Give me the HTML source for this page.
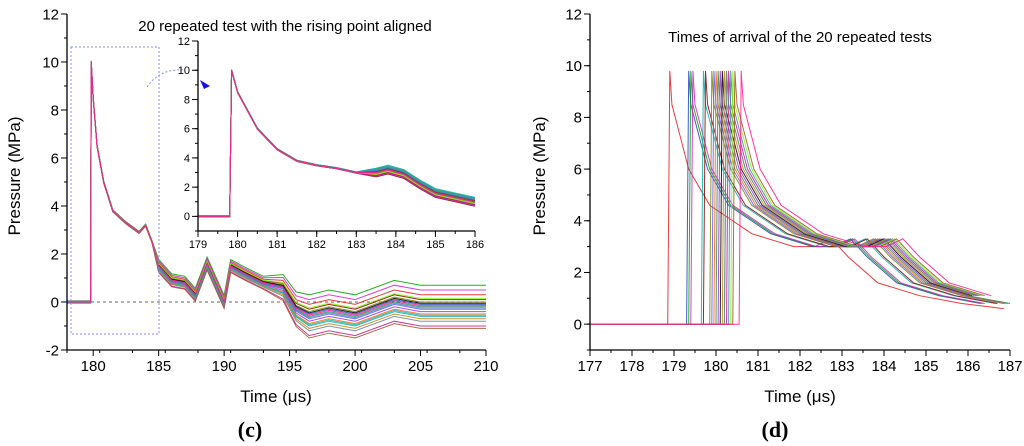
<!DOCTYPE html>
<html><head><meta charset="utf-8"><style>
html,body{margin:0;padding:0;background:#fff;}
svg{display:block;font-family:"Liberation Sans",sans-serif;}
</style></head><body>
<svg id="root" width="1024" height="446" viewBox="0 0 1024 446">
<g id="left"></g>
<g id="inset"></g>
<g id="right"></g>
</svg>
<script>
// ---------- data ----------
const colors = ["#e41a1c","#1f3fbf","#00a000","#d020d0","#00b0b0","#8b0000","#808000","#5a5aff","#ff6600","#2e8b57","#9932cc","#000000","#b8860b","#20b2aa","#c71585","#4682b4","#7cfc00","#a0522d","#708090","#ff1493"];
// Panel (c): base trace
const cTime = [178,179.8,179.85,180,180.3,180.8,181.5,182.5,183.5,184,184.5,185,186,187,187.8,188.7,190,190.5,191.5,193,194.5,195.5,196.5,198,200,203,205,207,210];
const cPress = [0,0,10,8.5,6.5,5,3.8,3.3,2.9,3.2,2.5,1.5,0.9,0.8,0.3,1.6,0,1.5,1.2,0.8,0.6,-0.3,-0.6,-0.4,-0.6,0,-0.2,-0.2,-0.2];
// per-trace late-time offsets (MPa)
const cOffsets = [0.5,0.1,0.9,0.7,-0.4,0.3,0.2,-0.1,-0.3,0.0,-0.2,0.15,-0.5,-0.35,-0.8,-0.05,0.35,-0.9,-0.6,0.05];
const cXTicks = [180,185,190,195,200,205,210];
const cYTicks = [-2,0,2,4,6,8,10,12];
// Inset
const iTime = [179,179.8,179.85,180,180.5,181,181.5,182,182.5,183,183.5,183.8,184.2,184.6,185,185.5,186];
const iPress = [0,0,10,8.5,6,4.6,3.8,3.5,3.3,3.0,3.0,3.2,2.9,2.2,1.6,1.3,1.0];
const iOffsets = [0.1,-0.1,0.05,-0.05,0.15,-0.15,0.0,0.08,-0.08,0.12,-0.12,0.03,-0.03,0.1,-0.1,0.06,-0.06,0.02,-0.02,0.0];
const iXTicks = [179,180,181,182,183,184,185,186];
const iYTicks = [0,2,4,6,8,10,12];
// Panel (d): shape relative to arrival
const dTau = [0,0.05,0.1,0.5,1,2,3,3.5,3.9,4.3,5,6,7,8,9];
const dShape = [0,9.8,8.5,6,4.6,3.5,3.0,3.0,3.3,2.6,1.6,1.1,0.8,0.6,0.5];
const dArrival = [178.85,179.3,179.35,179.4,179.65,179.7,179.85,179.9,179.95,180.0,180.05,180.1,180.15,180.2,180.25,180.3,180.35,180.4,180.2,180.55];
const dXTicks = [177,178,179,180,181,182,183,184,185,186,187];
const dYTicks = [0,2,4,6,8,10,12];
const NS="http://www.w3.org/2000/svg";
function mk(parent,tag,attrs,text){const e=document.createElementNS(NS,tag);for(const k in attrs)e.setAttribute(k,attrs[k]);if(text!==undefined)e.textContent=text;parent.appendChild(e);return e;}
function scale(d0,d1,r0,r1){return v=>r0+(v-d0)*(r1-r0)/(d1-d0);}

function axes(g,x,y,xmin,xmax,ymin,ymax,xt,yt,xminor,yminor,fs,name){
  const ax=mk(g,"line",{x1:x(xmin),y1:y(ymin),x2:x(xmax),y2:y(ymin),stroke:"#000","stroke-width":1.3});
  
  
  const ay=mk(g,"line",{x1:x(xmin),y1:y(ymin),x2:x(xmin),y2:y(ymax),stroke:"#000","stroke-width":1.3});
  
  
  for(let v=xmin;v<=xmax+1e-9;v+=xminor){mk(g,"line",{x1:x(v),x2:x(v),y1:y(ymin),y2:y(ymin)+3,stroke:"#000"});}
  for(let v=ymin;v<=ymax+1e-9;v+=yminor){mk(g,"line",{x1:x(xmin),x2:x(xmin)-3,y1:y(v),y2:y(v),stroke:"#000"});}
  xt.forEach(v=>{mk(g,"line",{x1:x(v),x2:x(v),y1:y(ymin),y2:y(ymin)+6,stroke:"#000"});
    const t=mk(g,"text",{x:x(v),y:y(ymin)+6+fs,"font-size":fs,"text-anchor":"middle"},String(v));
    
    });
  yt.forEach(v=>{mk(g,"line",{x1:x(xmin),x2:x(xmin)-6,y1:y(v),y2:y(v),stroke:"#000"});
    const t=mk(g,"text",{x:x(xmin)-8,y:y(v)+fs*0.35,"font-size":fs,"text-anchor":"end"},String(v));
    
    });
}
function line(g,pts,col,name){
  const p=mk(g,"polyline",{points:pts.map(p=>p[0].toFixed(1)+","+p[1].toFixed(1)).join(" "),fill:"none",stroke:col,"stroke-width":1,"stroke-opacity":0.85});
  
  
}

// ---------- panel c ----------
{
const g=document.getElementById('left');
const x=scale(178,210,67,486), y=scale(-2,12,350,14);
mk(g,"line",{x1:67,x2:486,y1:y(0),y2:y(0),stroke:"#666","stroke-dasharray":"3,3"});
cOffsets.forEach((o,i)=>{
  const pts=cTime.map((t,k)=>{const w=t<185?0.05:(t<193?0.3:Math.min(1,0.3+(t-193)/5));return [x(t),y(cPress[k]+o*w)];});
  line(g,pts,colors[i],'trace-c-'+(i+1));
});
axes(g,x,y,178,210,-2,12,cXTicks,cYTicks,2.5,1,15,'chart-c');
const box=mk(g,"rect",{x:71,y:47,width:88,height:287,fill:"none",stroke:"#8888ff","stroke-dasharray":"2,2"});

mk(g,"path",{d:"M147,87 Q160,68 185,70",fill:"none",stroke:"#8888ff","stroke-dasharray":"2,2"});
mk(g,"path",{d:"M200,80 L210,86 L204,89 Z",fill:"#1010ee"});
const tt=mk(g,"text",{x:285,y:31,"font-size":15,"text-anchor":"middle"},"20 repeated test with the rising point aligned");

const yl=mk(g,"text",{x:0,y:0,"font-size":17,"text-anchor":"middle",transform:"translate(20,176) rotate(-90)"},"Pressure (MPa)");

const xl=mk(g,"text",{x:276,y:402,"font-size":17,"text-anchor":"middle"},"Time (μs)");

const c=mk(g,"text",{x:250,y:437,"font-size":22,"font-weight":"bold","text-anchor":"middle","font-family":"Liberation Serif, serif"},"(c)");

}
// ---------- inset ----------
{
const g=document.getElementById('inset');
const x=scale(179,186,198,475), y=scale(-1,12,231,41);
iOffsets.forEach((o,i)=>{
  const pts=iTime.map((t,k)=>[x(t),y(iPress[k]+(t>183?o*2:o*0.3))]);
  line(g,pts,colors[i],'trace-inset-'+(i+1));
});
axes(g,x,y,179,186,-1,12,iXTicks,iYTicks,0.5,1,11,'inset');
}
// ---------- panel d ----------
{
const g=document.getElementById('right');
const x=scale(177,187,590,1010), y=scale(-1,12,350,14);
dArrival.forEach((ta,i)=>{
  const pts=[[x(177),y(0)]];
  dTau.forEach((tau,k)=>{const t=ta+tau;if(t<=187)pts.push([x(t),y(dShape[k])]);});
  pts.splice(1,0,[x(ta),y(0)]);
  line(g,pts,colors[i],'trace-d-'+(i+1));
});
axes(g,x,y,177,187,-1,12,dXTicks,dYTicks,0.5,1,15,'chart-d');
const tt=mk(g,"text",{x:800,y:42,"font-size":15,"text-anchor":"middle"},"Times of arrival of the 20 repeated tests");

const yl=mk(g,"text",{x:0,y:0,"font-size":17,"text-anchor":"middle",transform:"translate(545,176) rotate(-90)"},"Pressure (MPa)");

const xl=mk(g,"text",{x:800,y:402,"font-size":17,"text-anchor":"middle"},"Time (μs)");

const c=mk(g,"text",{x:775,y:437,"font-size":22,"font-weight":"bold","text-anchor":"middle","font-family":"Liberation Serif, serif"},"(d)");

}
</script>
</body></html>
